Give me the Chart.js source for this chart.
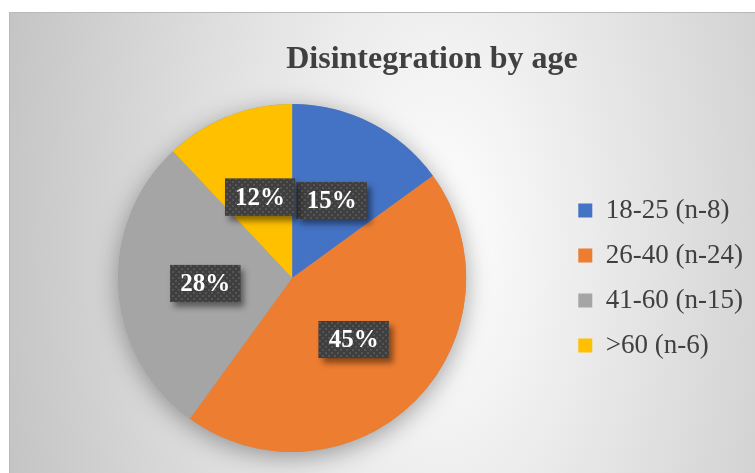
<!DOCTYPE html>
<html>
<head>
<meta charset="utf-8">
<title>Disintegration by age</title>
<script src="https://cdn.jsdelivr.net/npm/chart.js@4/dist/chart.umd.min.js"></script>
<style>
  html, body {
    margin: 0;
    padding: 0;
    width: 755px;
    height: 473px;
    overflow: hidden;
    background: #ffffff;
  }
  #frame {
    position: absolute;
    left: 9px;
    top: 12px;
    width: 800px;
    height: 470px;
    border-left: 1px solid #b9b9b9;
    border-top: 1px solid #b9b9b9;
    background: radial-gradient(ellipse 480px 900px at 430px 230px, #ffffff 0%, #c0c0c0 100%);
  }
  #ageChart {
    position: absolute;
    left: 0;
    top: 0;
  }
</style>
</head>
<body>
<div id="frame">
  <canvas id="ageChart" width="757" height="460"></canvas>
</div>

<script>
const chartTitle = "Disintegration by age";
const ageGroups = ["18-25 (n-8)", "26-40 (n-24)", "41-60 (n-15)", ">60 (n-6)"];
const sharePercent = [15, 45, 28, 12];
const sliceColors = ["#4472C4", "#ED7D31", "#A5A5A5", "#FFC000"];

const textColor = "#404040";
const serif = '"Liberation Serif", "Times New Roman", serif';

// small dotted tile used to fill the value boxes
function makeDotPattern(ctx) {
  const tile = document.createElement("canvas");
  tile.width = 6;
  tile.height = 6;
  const t = tile.getContext("2d");
  t.fillStyle = "#3f3f3f";
  t.fillRect(0, 0, 6, 6);
  t.fillStyle = "#555555";
  t.fillRect(0, 0, 2, 2);
  t.fillRect(3, 3, 2, 2);
  return ctx.createPattern(tile, "repeat");
}

// soft shadow under the whole pie
const pieShadow = {
  id: "pieShadow",
  beforeDatasetsDraw(chart) {
    const arc = chart.getDatasetMeta(0).data[0];
    if (!arc) return;
    const ctx = chart.ctx;
    ctx.save();
    ctx.shadowColor = "rgba(0, 0, 0, 0.35)";
    ctx.shadowBlur = 24;
    ctx.shadowOffsetY = 5;
    ctx.beginPath();
    ctx.arc(arc.x, arc.y, arc.outerRadius, 0, Math.PI * 2);
    ctx.fillStyle = "#9a9a9a";
    ctx.fill();
    ctx.restore();
  }
};

// percentage boxes in the middle of each slice
const valueBoxes = {
  id: "valueBoxes",
  afterDatasetsDraw(chart) {
    const ctx = chart.ctx;
    const meta = chart.getDatasetMeta(0);
    const pattern = makeDotPattern(ctx);
    ctx.save();
    ctx.font = "bold 25px " + serif;
    meta.data.forEach((arc, i) => {
      const pos = arc.tooltipPosition();
      const text = sharePercent[i] + "%";
      const w = ctx.measureText(text).width + 20;
      const h = 37;
      const left = pos.x - w / 2;
      const top = pos.y - h / 2;

      ctx.save();
      ctx.shadowColor = "rgba(0, 0, 0, 0.45)";
      ctx.shadowBlur = 6;
      ctx.shadowOffsetX = 4;
      ctx.shadowOffsetY = 5;
      ctx.fillStyle = "#3f3f3f";
      ctx.fillRect(left, top, w, h);
      ctx.restore();

      ctx.fillStyle = pattern;
      ctx.fillRect(left, top, w, h);

      ctx.fillStyle = "#ffffff";
      ctx.textAlign = "center";
      ctx.textBaseline = "middle";
      ctx.fillText(text, pos.x, pos.y + 1);
    });
    ctx.restore();
  }
};

// chart heading, centred over the full chart width
const heading = {
  id: "heading",
  afterDraw(chart) {
    const ctx = chart.ctx;
    ctx.save();
    ctx.font = "bold 32px " + serif;
    ctx.fillStyle = textColor;
    ctx.textAlign = "center";
    ctx.textBaseline = "middle";
    ctx.fillText(chartTitle, 422, 47);
    ctx.restore();
  }
};

new Chart(document.getElementById("ageChart"), {
  type: "pie",
  data: {
    labels: ageGroups,
    datasets: [
      {
        data: sharePercent,
        backgroundColor: sliceColors,
        borderWidth: 0,
        hoverOffset: 0
      }
    ]
  },
  options: {
    responsive: false,
    animation: false,
    layout: {
      padding: { top: 91, bottom: 21, left: 14, right: 14 }
    },
    plugins: {
      title: { display: false },
      tooltip: { enabled: false },
      legend: {
        position: "right",
        fullSize: false,
        align: "center",
        labels: {
          boxWidth: 14,
          boxHeight: 14,
          padding: 18,
          color: textColor,
          font: { family: serif, size: 27 }
        }
      }
    }
  },
  plugins: [pieShadow, valueBoxes, heading]
});
</script>
</body>
</html>
